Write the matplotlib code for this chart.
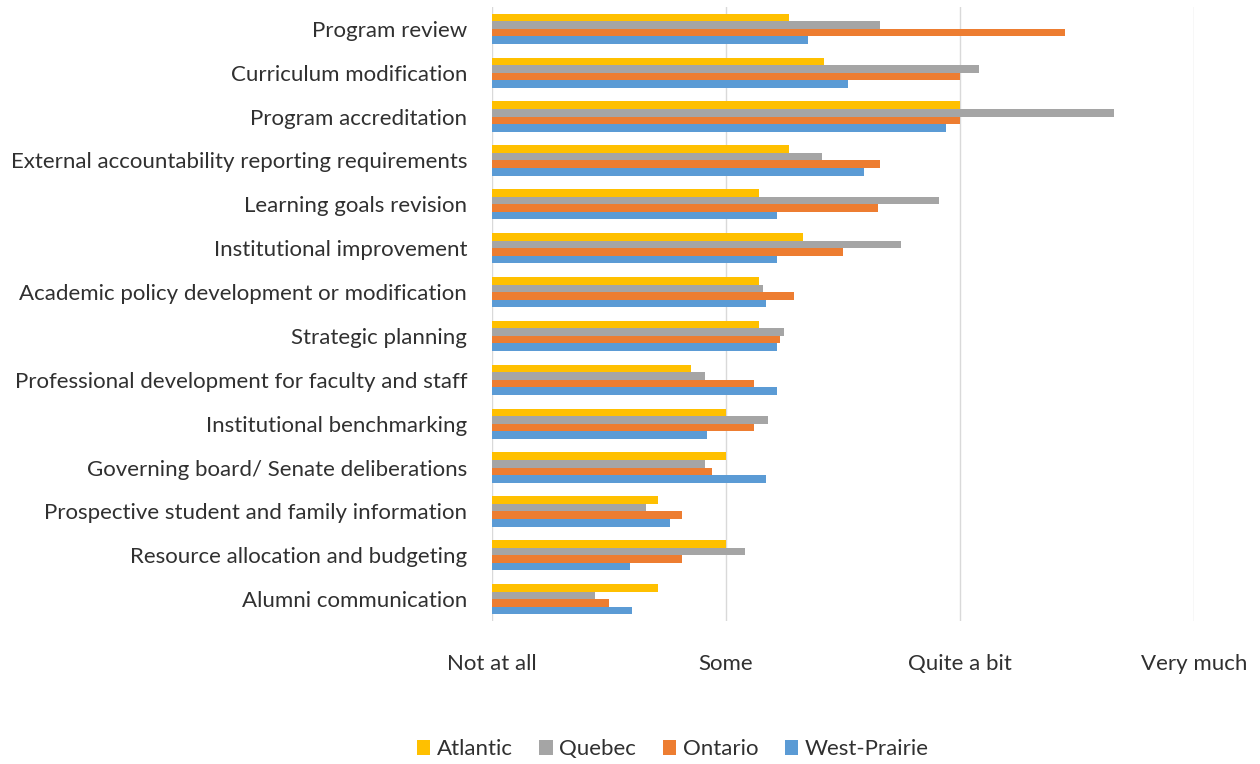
import matplotlib.pyplot as plt
import numpy as np

categories = [
    'Program review',
    'Curriculum modification',
    'Program accreditation',
    'External accountability reporting requirements',
    'Learning goals revision',
    'Institutional improvement',
    'Academic policy development or modification',
    'Strategic planning',
    'Professional development for faculty and staff',
    'Institutional benchmarking',
    'Governing board/ Senate deliberations',
    'Prospective student and family information',
    'Resource allocation and budgeting',
    'Alumni communication',
]
atlantic = [2.27, 2.42, 3.00, 2.27, 2.14, 2.33, 2.14, 2.14, 1.85, 2.00, 2.00, 1.71, 2.00, 1.71]
quebec = [2.66, 3.08, 3.66, 2.41, 2.91, 2.75, 2.16, 2.25, 1.91, 2.18, 1.91, 1.66, 2.08, 1.44]
ontario = [3.45, 3.00, 3.00, 2.66, 2.65, 2.50, 2.29, 2.23, 2.12, 2.12, 1.94, 1.81, 1.81, 1.50]
west_prairie = [2.35, 2.52, 2.94, 2.59, 2.22, 2.22, 2.17, 2.22, 2.22, 1.92, 2.17, 1.76, 1.59, 1.60]

series_names = ['Atlantic', 'Quebec', 'Ontario', 'West-Prairie']
colors = ['#FFC000', '#A5A5A5', '#ED7D31', '#5B9BD5']
tick_values = [1, 2, 3, 4]
tick_labels = ['Not at all', 'Some', 'Quite a bit', 'Very much']

plt.rcParams['font.family'] = ['Lato', 'DejaVu Sans']
text_color = '#303030'

fig = plt.figure(figsize=(12.6, 7.64), dpi=100)
ax = fig.add_axes([0.3905, 0.187, 0.557, 0.804])

y = np.arange(len(categories))
h = 0.172
for j, (vals, name, c) in enumerate(zip([atlantic, quebec, ontario, west_prairie], series_names, colors)):
    ax.barh(y + (j - 1.5) * h, np.array(vals) - 1, left=1, height=h, color=c,
            linewidth=0, label=name, zorder=3)

ax.set_xlim(1, 4)
ax.set_ylim(len(categories) - 0.5, -0.5)
ax.set_yticks(y)
ax.set_yticklabels(categories, fontsize=16, color=text_color)
ax.set_xticks(tick_values)
ax.set_xticklabels(tick_labels, fontsize=16, color=text_color)
ax.tick_params(axis='both', length=0)
ax.tick_params(axis='y', pad=18)
ax.tick_params(axis='x', pad=24)
ax.grid(axis='x', color='#D9D9D9', linewidth=1, zorder=0)
for s in ax.spines.values():
    s.set_visible(False)

fig.legend(loc='lower center', bbox_to_anchor=(0.534, -0.02), ncol=4, frameon=False,
           fontsize=16, handlelength=0.6, handleheight=0.6, handletextpad=0.3,
           columnspacing=1.2, labelcolor=text_color)

fig.savefig('out.png', dpi=100)
